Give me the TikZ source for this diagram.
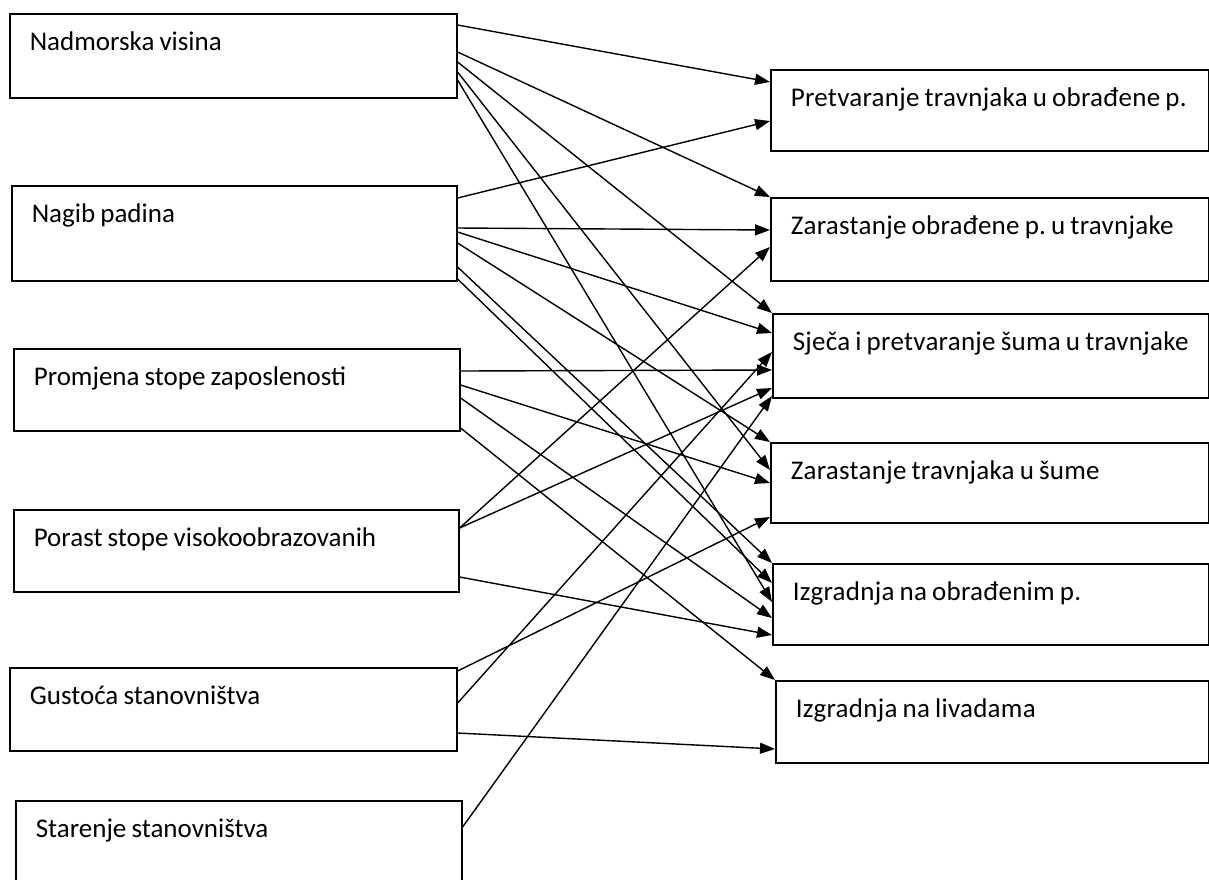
\documentclass[tikz,border=0pt]{standalone}
\usepackage{fontspec}
\setmainfont{Carlito}
\newfontfamily\siroko{Carlito}[LetterSpace=1]
\usepackage{tikz}
\usetikzlibrary{arrows.meta}
\def\sirina{1209}
\def\visina{879}

\tikzset{
  okvir/.style={draw, line width=0.8pt, anchor=north west, inner xsep=10pt, inner ysep=0pt,
    text height=18.5pt, align=left, font=\fontsize{13.5}{16}\selectfont,
    execute at begin node={\frenchspacing\spaceskip=0.19em\relax}},
  promjena/.style={okvir, font=\siroko\fontsize{13.5}{16}\selectfont,
    execute at begin node={\frenchspacing\spaceskip=0.19em\relax\hbox\bgroup},
    execute at end node={\egroup}},
  veza/.style={line width=0.7pt, -{Triangle[length=7.5pt,width=5.5pt]}}
}

\begin{document}
\begin{tikzpicture}[x=0.5pt, y=-0.5pt]
\useasboundingbox (0,0) rectangle (\sirina,\visina);
%\draw[step=100, black!20] (0,0) grid (\sirina,\visina);

% uzroci
\node[okvir, text width=203.5pt, text depth=23.5pt] (nadmorska) at (9,13) {Nadmorska visina};
\node[okvir, text width=202.5pt, text depth=29pt] (nagib) at (11,185) {Nagib padina};
\node[okvir, text width=203pt, text depth=22.5pt] (zaposlenost) at (13,348) {Promjena stope zaposlenosti};
\node[okvir, text width=202.5pt, text depth=22.5pt] (obrazovanje) at (13,509) {Porast stope visokoobrazovanih};
\node[okvir, text width=203.5pt, text depth=23pt] (gustoca) at (9,667) {Gustoća stanovništva};
\node[okvir, text width=203pt, text depth=23.5pt] (starenje) at (15,800) {Starenje stanovništva};

% promjene
\node[promjena, text width=199pt, text depth=22pt] (pretvaranje) at (770,69) {Pretvaranje travnjaka u obrađene p.};
\node[promjena, text width=199pt, text depth=23pt] (zarastanje) at (770,197) {Zarastanje obrađene p. u travnjake};
\node[promjena, text width=198pt, text depth=23.5pt] (sjeca) at (772,313) {Sječa i pretvaranje šuma u travnjake};
\node[promjena, text width=199pt, text depth=21.5pt] (sume) at (770,442) {Zarastanje travnjaka u šume};
\node[promjena, text width=198pt, text depth=22pt] (obradjene) at (772,563) {Izgradnja na obrađenim p.};
\node[promjena, text width=196.5pt, text depth=22.5pt] (livade) at (775,680) {Izgradnja na livadama};

% veze: izvor/pomak/cilj/pomak (pt od vrha okvira)
\foreach \a/\ya/\b/\yb in {
  nadmorska/6/pretvaranje/6.5, nadmorska/19.5/zarastanje/0, nadmorska/24.5/sjeca/0,
  nadmorska/29.5/sume/14, nadmorska/33.5/obradjene/19.5,
  nagib/6.5/pretvaranje/26, nagib/21.5/zarastanje/16.5, nagib/23.5/sjeca/10,
  nagib/29/sume/0, nagib/41/obradjene/0, nagib/47/obradjene/10,
  zaposlenost/11.5/sjeca/28.5, zaposlenost/18.5/sume/20.5,
  zaposlenost/25/obradjene/27.5, zaposlenost/40/livade/0,
  obrazovanje/9.5/zarastanje/25, obrazovanje/9.5/sjeca/37.5, obrazovanje/34/obradjene/36,
  gustoca/2/sume/37.5, gustoca/18/sjeca/19.5, gustoca/33/livade/34.5,
  starenje/13.5/sjeca/41.5}
  \draw[veza] ([yshift=-\ya pt]\a.north east) -- ([yshift=-\yb pt]\b.north west);
\end{tikzpicture}
\end{document}
